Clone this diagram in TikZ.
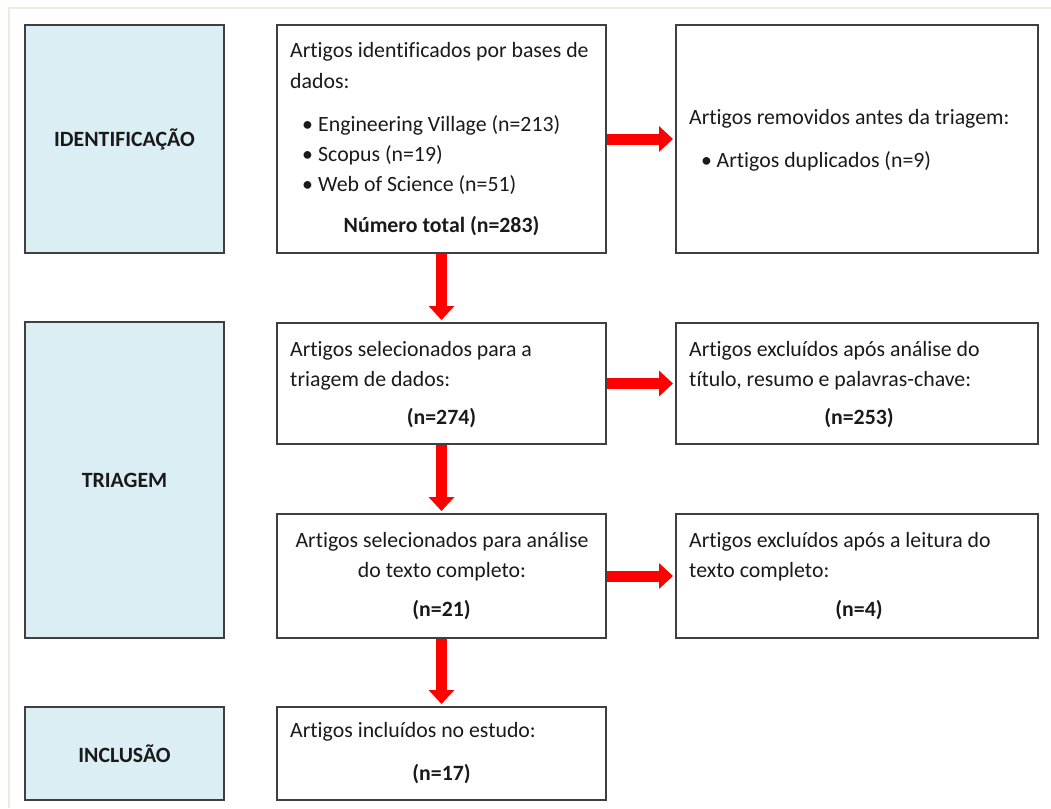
\documentclass[tikz,border=0pt]{standalone}
\usepackage{fontspec}
\setmainfont[Ligatures=NoCommon]{Carlito}
\usetikzlibrary{arrows.meta}
\definecolor{stagefill}{HTML}{DAEEF3}
\definecolor{boxline}{HTML}{3F3F3F}
\definecolor{framecol}{HTML}{EEEAE0}
\definecolor{arrowred}{HTML}{FF0000}
\definecolor{textcol}{HTML}{1A1A1A}
\begin{document}
\begin{tikzpicture}[x=1pt,y=-1pt,
  box/.style={draw=boxline,line width=1.3pt,inner sep=0pt,outer sep=0pt},
  stagebox/.style={box,fill=stagefill,font=\fontsize{21.8}{26}\selectfont\bfseries,text=textcol},
  txt/.style={anchor=base west,inner sep=0pt,text=textcol,font=\fontsize{21.8}{26}\selectfont},
  ctxt/.style={anchor=base,inner sep=0pt,text=textcol,font=\fontsize{21.8}{26}\selectfont\bfseries},
  ctxtr/.style={anchor=base,inner sep=0pt,text=textcol,font=\fontsize{21.8}{26}\selectfont},
  flow/.style={draw=arrowred,line width=11pt,-{Triangle[width=25pt,length=14pt]},shorten >=3pt}]
\useasboundingbox (0,0) rectangle (1051,808);
\draw[framecol,line width=1.5pt] (9,808) -- (9,8) -- (1051,8);

% boxes
\node[stagebox,minimum width=199pt,minimum height=228pt] (s1) at (124.5,139) {IDENTIFICAÇÃO};
\node[stagebox,minimum width=199pt,minimum height=316pt] (s2) at (124.5,480) {TRIAGEM};
\node[stagebox,minimum width=199pt,minimum height=93pt] (s3) at (124.5,753.5) {INCLUSÃO};

\node[box,minimum width=329pt,minimum height=228pt] (m1) at (441.5,139) {};
\node[box,minimum width=329pt,minimum height=121pt] (m2) at (441.5,383.5) {};
\node[box,minimum width=329pt,minimum height=124pt] (m3) at (441.5,576) {};
\node[box,minimum width=329pt,minimum height=93pt] (m4) at (441.5,753.5) {};

\node[box,minimum width=362pt,minimum height=228pt] (r1) at (857,139) {};
\node[box,minimum width=362pt,minimum height=121pt] (r2) at (857,383.5) {};
\node[box,minimum width=362pt,minimum height=124pt] (r3) at (857,576) {};

% arrows
\draw[flow] (m1.east) -- (r1.west);
\draw[flow] (m2.east) -- (r2.west);
\draw[flow] (m3.east) -- (r3.west);
\draw[flow] (m1.south) -- (m2.north);
\draw[flow] (m2.south) -- (m3.north);
\draw[flow] (m3.south) -- (m4.north);

% redraw borders on top of arrow starts
\foreach \n in {m1,m2,m3,m4,r1,r2,r3} {\draw[draw=boxline,line width=1.3pt] (\n.north west) rectangle (\n.south east);}

% texts box m1
\node[txt] (m1a) at (290,57) {Artigos identificados por bases de};
\node[txt] (m1b) at (290,88) {dados:};
\node[txt] (m1d1) at (302,131) {•};
\node[txt] (m1e1) at (318,131) {Engineering Village (n=213)};
\node[txt] (m1d2) at (302,161) {•};
\node[txt] (m1e2) at (318,161) {Scopus (n=19)};
\node[txt] (m1d3) at (302,191) {•};
\node[txt] (m1e3) at (318,191) {Web of Science (n=51)};
\node[ctxt] (m1t) at (441.5,232) {Número total (n=283)};

% r1
\node[txt] (r1a) at (689,124) {Artigos removidos antes da triagem:};
\node[txt] (r1d) at (701,167) {•};
\node[txt] (r1e) at (716.5,167) {Artigos duplicados (n=9)};

% m2
\node[txt] (m2a) at (290,356) {Artigos selecionados para a};
\node[txt] (m2b) at (290,386.5) {triagem de dados:};
\node[ctxt] (m2n) at (441.5,424) {(n=274)};

% r2
\node[txt] (r2a) at (689,356) {Artigos excluídos após análise do};
\node[txt] (r2b) at (689,386.5) {título, resumo e palavras-chave:};
\node[ctxt] (r2n) at (859,424) {(n=253)};

% m3
\node[ctxtr] (m3a) at (442,547) {Artigos selecionados para análise};
\node[ctxtr] (m3b) at (442,577) {do texto completo:};
\node[ctxt] (m3n) at (441.5,616) {(n=21)};

% r3
\node[txt] (r3a) at (689,547) {Artigos excluídos após a leitura do};
\node[txt] (r3b) at (689,577) {texto completo:};
\node[ctxt] (r3n) at (859,616) {(n=4)};

% m4
\node[txt] (m4a) at (290,737) {Artigos incluídos no estudo:};
\node[ctxt] (m4n) at (441.5,780) {(n=17)};
\end{tikzpicture}
\end{document}
